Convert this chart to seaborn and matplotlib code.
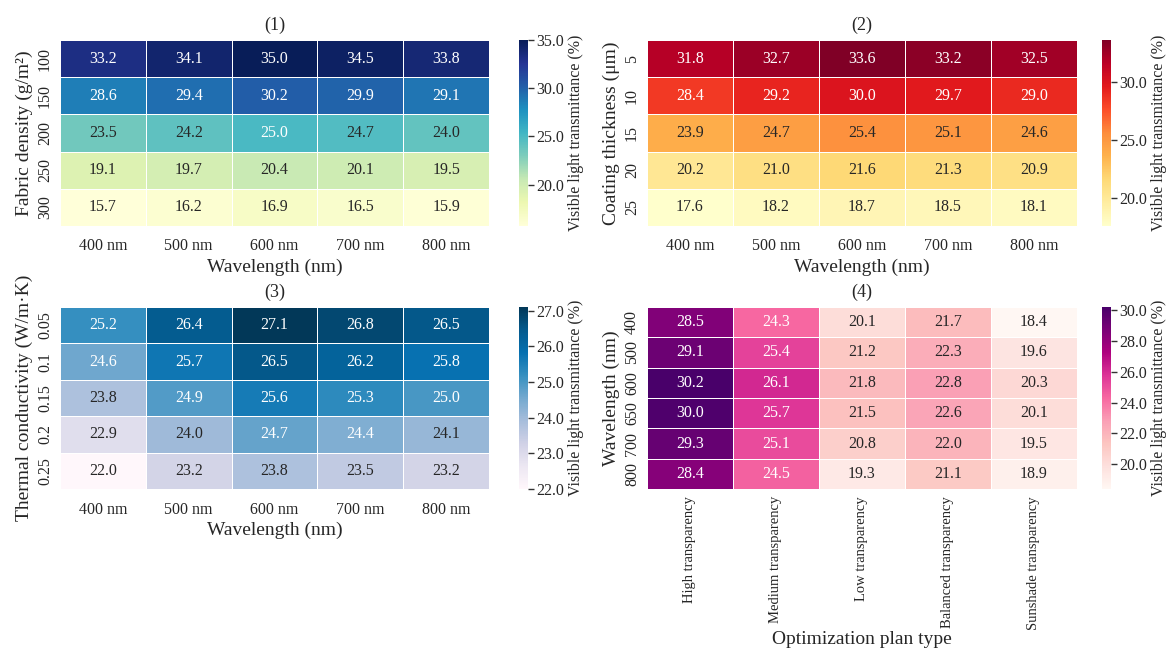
import numpy as np
import pandas as pd
import seaborn as sns
import matplotlib.pyplot as plt
from matplotlib.ticker import MultipleLocator

wavelengths = ["400 nm", "500 nm", "600 nm", "700 nm", "800 nm"]

density = ["100", "150", "200", "250", "300"]
density_vals = [
    [33.2, 34.1, 35.0, 34.5, 33.8],
    [28.6, 29.4, 30.2, 29.9, 29.1],
    [23.5, 24.2, 25.0, 24.7, 24.0],
    [19.1, 19.7, 20.4, 20.1, 19.5],
    [15.7, 16.2, 16.9, 16.5, 15.9],
]

thickness = ["5", "10", "15", "20", "25"]
thickness_vals = [
    [31.8, 32.7, 33.6, 33.2, 32.5],
    [28.4, 29.2, 30.0, 29.7, 29.0],
    [23.9, 24.7, 25.4, 25.1, 24.6],
    [20.2, 21.0, 21.6, 21.3, 20.9],
    [17.6, 18.2, 18.7, 18.5, 18.1],
]

conductivity = ["0.05", "0.1", "0.15", "0.2", "0.25"]
conductivity_vals = [
    [25.2, 26.4, 27.1, 26.8, 26.5],
    [24.6, 25.7, 26.5, 26.2, 25.8],
    [23.8, 24.9, 25.6, 25.3, 25.0],
    [22.9, 24.0, 24.7, 24.4, 24.1],
    [22.0, 23.2, 23.8, 23.5, 23.2],
]

plans = ["High transparency", "Medium transparency", "Low transparency",
         "Balanced transparency", "Sunshade transparency"]
wl_rows = ["400", "500", "600", "650", "700", "800"]
plan_vals = [
    [28.5, 24.3, 20.1, 21.7, 18.4],
    [29.1, 25.4, 21.2, 22.3, 19.6],
    [30.2, 26.1, 21.8, 22.8, 20.3],
    [30.0, 25.7, 21.5, 22.6, 20.1],
    [29.3, 25.1, 20.8, 22.0, 19.5],
    [28.4, 24.5, 19.3, 21.1, 18.9],
]

sns.set_theme(style="white")
plt.rcParams['font.family'] = ['Liberation Serif', 'DejaVu Serif']

W, H = 1167, 649
fig = plt.figure(figsize=(W / 100, H / 100), dpi=100)


def box(x0, y0, x1, y1):
    return [x0 / W, 1 - y1 / H, (x1 - x0) / W, (y1 - y0) / H]


panels = [
    (density_vals, density, wavelengths, "YlGnBu", "Fabric density (g/m²)", "Wavelength (nm)", "(1)",
     box(60, 40, 489, 226), box(519, 40, 528, 226), 0, 5),
    (thickness_vals, thickness, wavelengths, "YlOrRd", "Coating thickness (μm)", "Wavelength (nm)", "(2)",
     box(647, 40, 1077, 226), box(1102, 40, 1111, 226), 0, 5),
    (conductivity_vals, conductivity, wavelengths, "PuBu", "Thermal conductivity (W/m·K)", "Wavelength (nm)", "(3)",
     box(60, 307, 489, 489), box(519, 307, 528, 489), 0, 1),
    (plan_vals, wl_rows, plans, "RdPu", "Wavelength (nm)", "Optimization plan type", "(4)",
     box(647, 307, 1077, 489), box(1102, 307, 1111, 489), 90, 2),
]

for vals, rows, cols, cmap, ylab, xlab, title, axpos, cpos, xrot, step in panels:
    df = pd.DataFrame(vals, index=rows, columns=cols)
    ax = fig.add_axes(axpos)
    cax = fig.add_axes(cpos)
    sns.heatmap(df, ax=ax, cbar_ax=cax, cmap=cmap, annot=True, fmt=".1f",
                annot_kws={"size": 11.5}, linewidths=0.5, linecolor="white",
                cbar_kws={"format": "%.1f", "ticks": MultipleLocator(step)})
    ax.set_title(title, fontsize=13, pad=7)
    ax.set_xlabel(xlab, fontsize=14, labelpad=3 if xrot == 0 else 1)
    ax.set_ylabel(ylab, fontsize=14, labelpad=3)
    ax.tick_params(axis="x", length=0, labelsize=11.5 if xrot == 0 else 10.5, pad=9 if xrot == 0 else 5)
    ax.tick_params(axis="y", length=0, labelsize=11.5, pad=5)
    ax.set_xticklabels(cols, rotation=xrot)
    ax.set_yticklabels(rows, rotation=90, va="center")
    cax.tick_params(axis="y", right=True, length=4, width=1, color="#333333",
                    labelsize=11.5, pad=2)
    cax.set_ylabel("Visible light transmittance (%)", fontsize=11.5, labelpad=3)

fig.savefig("out.png", dpi=100)
